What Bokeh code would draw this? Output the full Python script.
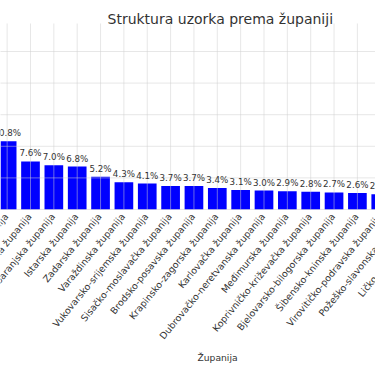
from bokeh.plotting import figure
from bokeh.models import ColumnDataSource, LabelSet, Label, Range1d
from bokeh.core.properties import value
from bokeh.embed import file_html
from bokeh.resources import INLINE

# ---- data ----
counties = [
    "Splitsko-dalmatinska županija",
    "Primorsko-goranska županija",
    "Osječko-baranjska županija",
    "Istarska županija",
    "Zadarska županija",
    "Varaždinska županija",
    "Vukovarsko-srijemska županija",
    "Sisačko-moslavačka županija",
    "Brodsko-posavska županija",
    "Krapinsko-zagorska županija",
    "Karlovačka županija",
    "Dubrovačko-neretvanska županija",
    "Međimurska županija",
    "Koprivničko-križevačka županija",
    "Bjelovarsko-bilogorska županija",
    "Šibensko-kninska županija",
    "Virovitičko-podravska županija",
    "Požeško-slavonska županija",
    "Ličko-senjska županija",
]
shares = [10.8, 7.6, 7.0, 6.8, 5.2, 4.3, 4.1, 3.7, 3.7, 3.4, 3.1, 3.0,
          2.9, 2.8, 2.7, 2.6, 2.4, 2.2, 1.9]
y_ticks = [0, 5, 10, 15, 20, 25]
title_text = "Struktura uzorka prema županiji"
x_title = "Županija"

# ---- layout (pixel geometry of the cropped view) ----
W, H = 375, 366
X0_PX, DX = 6.65, 23.35      # screen x of first category, px per category
BASE_PX, DY = 209.0, 6.32    # screen y of 0 %, px per percent
AX_TOP_PX = 23.0             # top of the axes area


def xd(px):
    return (px - X0_PX) / DX


def yd(py):
    return (BASE_PX - py) / DY


idx = list(range(len(counties)))
src = ColumnDataSource(dict(
    x=idx,
    top=shares,
    zero=[0.0] * len(idx),
    name=counties,
    lab=[f"{v:.1f}%" for v in shares],
))

TXT = "#333333"
FONT = value("DejaVu Sans")

p = figure(width=W, height=H, output_backend="svg", toolbar_location=None,
           x_range=Range1d(xd(0), xd(W)), y_range=Range1d(yd(H), yd(0)),
           min_border=0)
p.outline_line_color = None
p.xaxis.visible = False
p.yaxis.visible = False
p.xgrid.visible = False
p.ygrid.visible = False

# bars
p.vbar(x="x", top="top", width=0.8, source=src, fill_color="#0000ff", line_color=None)

# grid lines (drawn over the bars, faint)
ytop = yd(AX_TOP_PX)
p.segment(x0=idx, x1=idx, y0=[0] * len(idx), y1=[ytop] * len(idx),
          line_color="#cfcfcf", line_alpha=0.5, line_width=1)
p.segment(x0=[xd(-5)] * len(y_ticks), x1=[xd(W + 5)] * len(y_ticks),
          y0=y_ticks, y1=y_ticks,
          line_color="#cfcfcf", line_alpha=0.5, line_width=1)

# value labels
p.add_layout(LabelSet(x="x", y="top", text="lab", source=src, y_offset=5,
                      text_align="center", text_baseline="alphabetic",
                      text_font=FONT, text_font_size=value("8.7px"),
                      text_color=TXT))

# category labels (rotated)
p.add_layout(LabelSet(x="x", y="zero", text="name", source=src,
                      y_offset=-5, x_offset=-1,
                      angle=50.5, angle_units="deg",
                      text_align="right", text_baseline="middle",
                      text_font=FONT, text_font_size=value("9.4px"),
                      text_color=TXT))

# title and axis title
p.add_layout(Label(x=xd(107), y=yd(18.3), text=title_text,
                   text_align="left", text_baseline="alphabetic",
                   text_font="DejaVu Sans", text_font_size="14px",
                   text_color=TXT))
p.add_layout(Label(x=xd(217), y=yd(356.5), text=x_title,
                   text_align="center", text_baseline="alphabetic",
                   text_font="DejaVu Sans", text_font_size="9.2px",
                   text_color=TXT))

open("out.html", "w").write(file_html(p, INLINE))
